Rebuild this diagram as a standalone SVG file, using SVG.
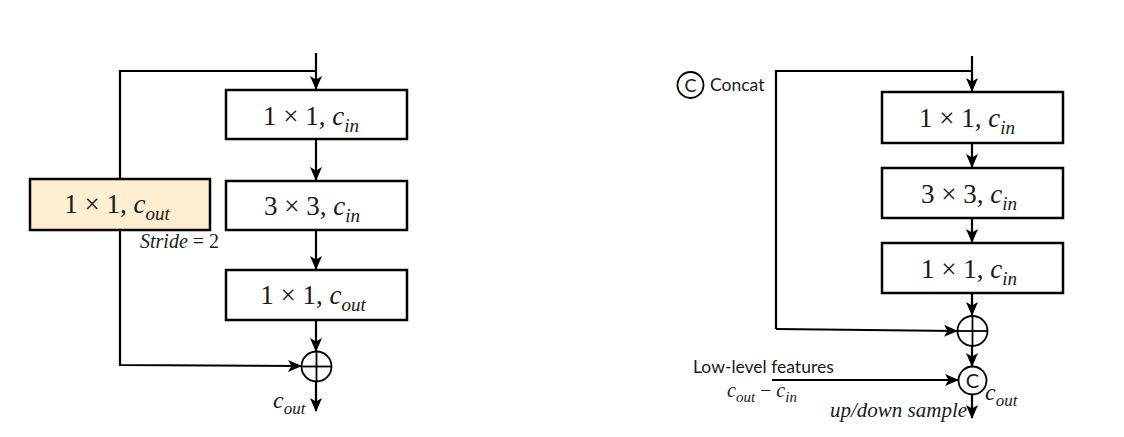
<svg xmlns="http://www.w3.org/2000/svg" width="1124" height="437" viewBox="0 0 1124 437">
<defs>
<marker id="ah" viewBox="0 0 14 14" refX="13" refY="7" markerWidth="14" markerHeight="14" markerUnits="userSpaceOnUse" orient="auto">
<path d="M0,1 L14,7 L0,13 L3.5,7 z" fill="#000"/>
</marker>
<style>
.box{fill:#fff;stroke:#000;stroke-width:2.5}
.yel{fill:#FDEFCF;stroke:#000;stroke-width:2.5}
.ln{fill:none;stroke:#000;stroke-width:2.2}
.arr{fill:none;stroke:#000;stroke-width:2.2;marker-end:url(#ah)}
.op{fill:#fff;stroke:#000;stroke-width:1.8}
.m{font-family:"Liberation Serif","DejaVu Serif",serif;font-size:27px;fill:#1a1a1a}
.i{font-style:italic}
.s{font-size:19px}
.sm{font-family:"Liberation Serif","DejaVu Serif",serif;font-size:20px;fill:#1a1a1a}
.lab{font-family:Lato,"Liberation Sans",sans-serif;font-size:17.5px;fill:#1a1a1a}
</style>
</defs>
<rect width="1124" height="437" fill="#fff"/>

<g id="connectors">
<line class="arr" x1="316" y1="53" x2="316" y2="89"/>
<polyline class="ln" points="316,71 120,71 120,179"/>
<line class="arr" x1="316" y1="139" x2="316" y2="180"/>
<line class="arr" x1="316" y1="230" x2="316" y2="269"/>
<line class="arr" x1="316" y1="320" x2="316" y2="351"/>
<polyline class="arr" points="120,230 120,365 301,366"/>
<line class="arr" x1="316" y1="382" x2="316" y2="411"/>
<line class="arr" x1="972" y1="56" x2="972" y2="91"/>
<polyline class="ln" points="972,71 776,71 776,329"/>
<polyline class="arr" points="776,329 957,331"/>
<line class="arr" x1="972" y1="143" x2="972" y2="167"/>
<line class="arr" x1="972" y1="218" x2="972" y2="242"/>
<line class="arr" x1="972" y1="293" x2="972" y2="315"/>
<line class="arr" x1="972" y1="346" x2="972" y2="366"/>
<line class="arr" x1="772" y1="380" x2="958" y2="380"/>
<line class="arr" x1="972" y1="394" x2="972" y2="418"/>
</g>

<g id="L_box1">
<rect class="box" x="226" y="90" width="181" height="49"/>
<text class="m" x="311" y="125" text-anchor="middle">1 × 1, <tspan class="i">c</tspan><tspan class="i s" dy="7">in</tspan></text>
</g>
<g id="L_box2">
<rect class="box" x="226" y="181" width="181" height="49"/>
<text class="m" x="312" y="215" text-anchor="middle">3 × 3, <tspan class="i">c</tspan><tspan class="i s" dy="7">in</tspan></text>
</g>
<g id="L_box3">
<rect class="box" x="226" y="270" width="181" height="50"/>
<text class="m" x="313" y="304" text-anchor="middle">1 × 1, <tspan class="i">c</tspan><tspan class="i s" dy="7">out</tspan></text>
</g>
<g id="L_short">
<rect class="yel" x="30" y="179" width="180" height="51"/>
<text class="m" x="117" y="213" text-anchor="middle">1 × 1, <tspan class="i">c</tspan><tspan class="i s" dy="7">out</tspan></text>
<text class="sm" x="140" y="248"><tspan class="i">Stride</tspan> = 2</text>
</g>
<g id="L_add">
<circle class="op" cx="316.5" cy="366.5" r="15"/>
<line class="ln" x1="301.5" y1="366.5" x2="331.5" y2="366.5" style="stroke-width:1.8"/>
<line class="ln" x1="316.5" y1="351.5" x2="316.5" y2="381.5" style="stroke-width:1.8"/>
</g>
<g id="L_out">
<text class="sm" x="273" y="408" style="font-style:italic;font-size:24px">c<tspan style="font-size:17px" dy="6">out</tspan></text>
</g>

<g id="legend">
<circle class="op" cx="690.5" cy="85" r="13"/>
<text class="lab" x="690.5" y="91.5" text-anchor="middle" style="font-size:18px">C</text>
<text class="lab" x="710" y="91">Concat</text>
</g>
<g id="R_box1">
<rect class="box" x="882" y="92" width="181" height="51"/>
<text class="m" x="967" y="127" text-anchor="middle">1 × 1, <tspan class="i">c</tspan><tspan class="i s" dy="7">in</tspan></text>
</g>
<g id="R_box2">
<rect class="box" x="882" y="168" width="181" height="50"/>
<text class="m" x="969" y="203" text-anchor="middle">3 × 3, <tspan class="i">c</tspan><tspan class="i s" dy="7">in</tspan></text>
</g>
<g id="R_box3">
<rect class="box" x="882" y="243" width="181" height="50"/>
<text class="m" x="969" y="278" text-anchor="middle">1 × 1, <tspan class="i">c</tspan><tspan class="i s" dy="7">in</tspan></text>
</g>
<g id="R_add">
<circle class="op" cx="972.5" cy="331" r="15"/>
<line class="ln" x1="957.5" y1="331" x2="987.5" y2="331" style="stroke-width:1.8"/>
<line class="ln" x1="972.5" y1="316" x2="972.5" y2="346" style="stroke-width:1.8"/>
</g>
<g id="R_concat">
<circle class="op" cx="972.5" cy="380.5" r="14"/>
<text class="lab" x="972.5" y="388" text-anchor="middle" style="font-size:20px">C</text>
</g>
<g id="R_labels">
<text class="lab" x="693" y="373">Low-level features</text>
<text class="sm" x="727" y="397"><tspan class="i">c</tspan><tspan class="i" style="font-size:15px" dy="5">out</tspan><tspan dy="-5"> − </tspan><tspan class="i">c</tspan><tspan class="i" style="font-size:15px" dy="5">in</tspan></text>
<text class="sm" x="985" y="400" style="font-style:italic;font-size:24px">c<tspan style="font-size:17px" dy="6">out</tspan></text>
<text class="sm" x="830" y="417" style="font-style:italic;font-size:21px">up/down  sample</text>
</g>
</svg>
